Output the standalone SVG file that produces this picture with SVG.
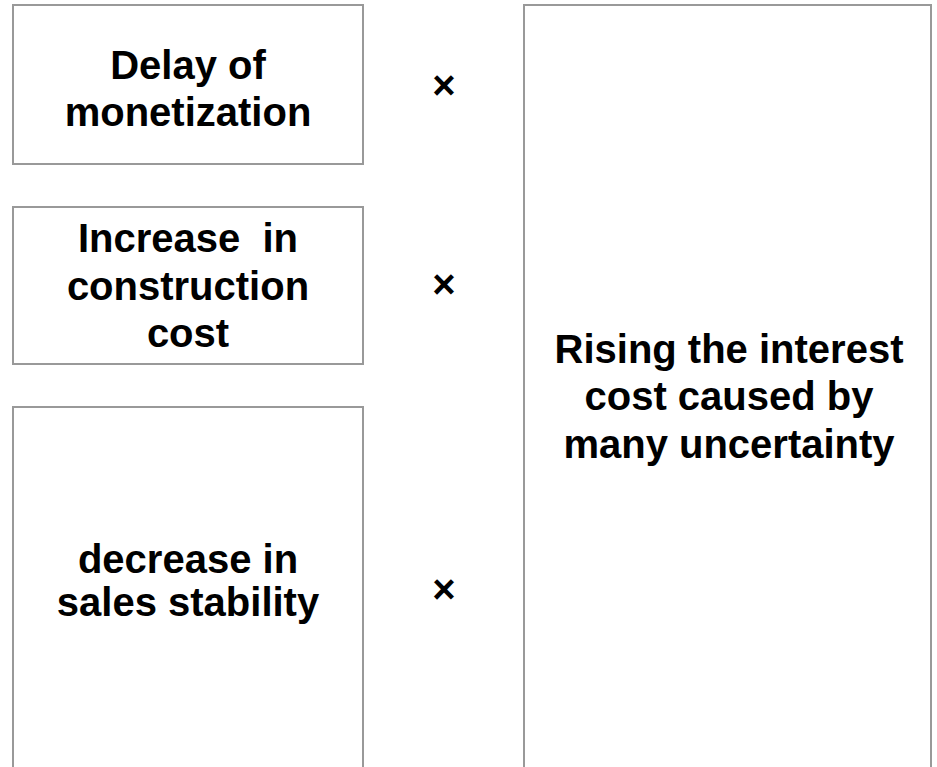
<svg xmlns="http://www.w3.org/2000/svg" width="937" height="767" viewBox="0 0 937 767">
<style>
.box{fill:#fff;stroke:#999;stroke-width:2}
.t{font-family:"Liberation Sans",Arial,sans-serif;font-weight:bold;font-size:40px;fill:#000;text-anchor:middle}
</style>
<rect width="937" height="767" fill="#fff"/>
<g id="n1"><rect class="box" x="13" y="5" width="350" height="159"/>
<text class="t" x="188" y="79">Delay of</text><text class="t" x="188" y="126">monetization</text></g>
<g id="n2"><rect class="box" x="13" y="207" width="350" height="157"/>
<text class="t" x="188" y="252" xml:space="preserve">Increase  in</text><text class="t" x="188" y="300">construction</text><text class="t" x="188" y="347">cost</text></g>
<g id="n3"><rect class="box" x="13" y="407" width="350" height="380"/>
<text class="t" x="188" y="573">decrease in</text><text class="t" x="188" y="616">sales stability</text></g>
<g id="n4"><rect class="box" x="524" y="5" width="407" height="780"/>
<text class="t" x="729" y="363">Rising the interest</text><text class="t" x="729" y="410">cost caused by</text><text class="t" x="729" y="458">many uncertainty</text></g>
<g id="ops">
<text class="t" x="444" y="99">×</text>
<text class="t" x="444" y="298">×</text>
<text class="t" x="444" y="603">×</text>
</g>
</svg>
